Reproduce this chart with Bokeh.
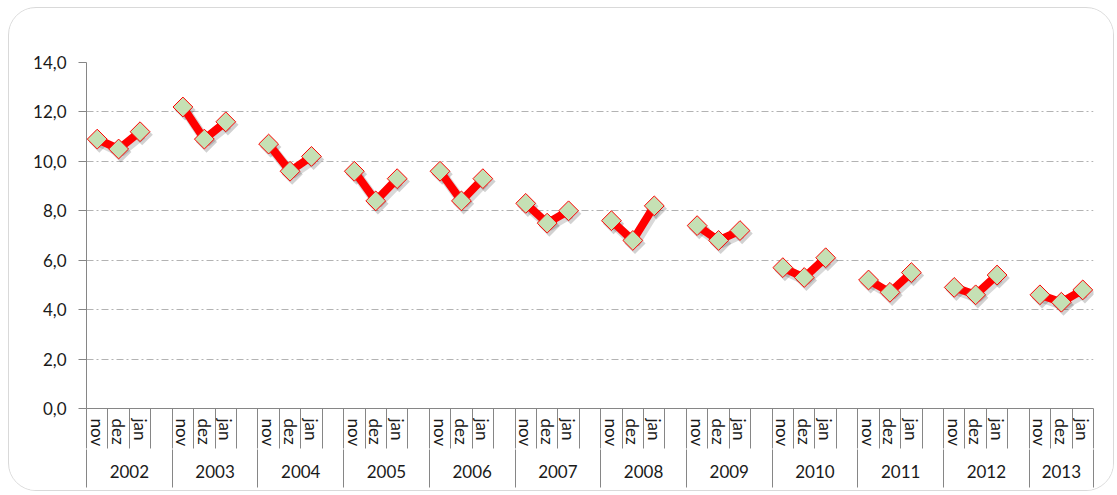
import math
from bokeh.plotting import figure
from bokeh.models import Range1d, LinearAxis, FixedTicker, ColumnDataSource
from bokeh.transform import dodge
from bokeh.embed import file_html
from bokeh.resources import INLINE

# ---- data ----
years = ["2002", "2003", "2004", "2005", "2006", "2007",
         "2008", "2009", "2010", "2011", "2012", "2013"]
months = ["nov", "dez", "jan"]
values = [
    10.9, 10.5, 11.2,   # 2002
    12.2, 10.9, 11.6,   # 2003
    10.7, 9.6, 10.2,    # 2004
    9.6, 8.4, 9.3,      # 2005
    9.6, 8.4, 9.3,      # 2006
    8.3, 7.5, 8.0,      # 2007
    7.6, 6.8, 8.2,      # 2008
    7.4, 6.8, 7.2,      # 2009
    5.7, 5.3, 6.1,      # 2010
    5.2, 4.7, 5.5,      # 2011
    4.9, 4.6, 5.4,      # 2012
    4.6, 4.3, 4.8,      # 2013
]
y_ticks = [0, 2, 4, 6, 8, 10, 12, 14]
y_tick_labels = ["0,0", "2,0", "4,0", "6,0", "8,0", "10,0", "12,0", "14,0"]

# ---- category layout: each year has nov/dez/jan plus one empty slot ----
SLOTS = len(months) + 1
n_slots = len(years) * SLOTS - 1

xs, ys = [], []
month_pos, month_lbl = [], []
for gi, yr in enumerate(years):
    for mi, m in enumerate(months):
        pos = gi * SLOTS + mi
        xs.append(pos)
        ys.append(values[gi * len(months) + mi])
        month_pos.append(pos)
        month_lbl.append(m)
    if gi < len(years) - 1:
        xs.append(gi * SLOTS + len(months))
        ys.append(float("nan"))

slot_edges = [k - 0.5 for k in range(n_slots + 1)]
group_edges = [gi * SLOTS - 0.5 for gi in range(len(years))] + [n_slots - 0.5]
year_centers = [(group_edges[i] + group_edges[i + 1]) / 2 for i in range(len(years))]

src = ColumnDataSource(data=dict(x=xs, y=ys))

FONT = "Lato"
TXT = "#1a1a1a"
AXC = "#868686"

p = figure(width=1106, height=484,
           x_range=Range1d(-0.5, n_slots - 0.5), y_range=Range1d(0, 14),
           x_axis_location=None, output_backend="svg", toolbar_location=None,
           min_border_left=77, min_border_right=22, min_border_top=54, min_border_bottom=84)
p.outline_line_color = None
p.background_fill_color = "white"
p.border_fill_color = "white"
p.styles = {"border": "1px solid #d9d9d9", "border-radius": "28px",
            "overflow": "hidden", "margin": "7px 0 0 8px"}
p.xgrid.grid_line_color = None

# y axis
p.yaxis.ticker = FixedTicker(ticks=y_ticks)
p.yaxis.major_label_overrides = {t: l for t, l in zip(y_ticks, y_tick_labels)}
p.yaxis.major_tick_out = 8
p.yaxis.major_tick_in = 0
p.yaxis.minor_tick_line_color = None
p.yaxis.axis_line_color = AXC
p.yaxis.major_tick_line_color = AXC
p.yaxis.major_label_standoff = 12
p.yaxis.major_label_text_font = FONT
p.yaxis.major_label_text_font_size = "17px"
p.yaxis.major_label_text_color = TXT

p.ygrid.grid_line_color = "#b3b3b3"
p.ygrid.grid_line_dash = "7 3 2 3"
p.ygrid.grid_line_width = 1

# month axis (separators are minor ticks; labels pulled back inside the row)
month_axis = LinearAxis(
    ticker=FixedTicker(ticks=month_pos, minor_ticks=slot_edges),
    major_label_overrides={pos: m for pos, m in zip(month_pos, month_lbl)},
    major_label_orientation="vertical",
    major_tick_out=0, major_tick_in=0, major_tick_line_color=None,
    minor_tick_out=40, minor_tick_in=0, minor_tick_line_color=AXC,
    axis_line_color=AXC, major_label_standoff=-30,
    major_label_text_font=FONT, major_label_text_font_size="17px",
    major_label_text_color=TXT)
p.add_layout(month_axis, "below")

# year axis
year_axis = LinearAxis(
    ticker=FixedTicker(ticks=year_centers, minor_ticks=group_edges),
    major_label_overrides={c: y for c, y in zip(year_centers, years)},
    major_tick_out=0, major_tick_in=0, major_tick_line_color=None,
    minor_tick_out=38, minor_tick_in=0, minor_tick_line_color=AXC,
    axis_line_color=None, major_label_standoff=-23,
    major_label_text_font=FONT, major_label_text_font_size="17px",
    major_label_text_color=TXT)
p.add_layout(year_axis, "below")

# shadows
p.line(x=dodge("x", 0.1, range=p.x_range), y=dodge("y", -0.12, range=p.y_range), source=src,
       line_color="#000000", line_alpha=0.15, line_width=10)
p.scatter(x=dodge("x", 0.1, range=p.x_range), y=dodge("y", -0.12, range=p.y_range), source=src,
          marker="square", angle=math.pi / 4, size=15,
          fill_color="#000000", fill_alpha=0.18, line_color=None)

# series
p.line(x="x", y="y", source=src, line_color="#ff0000", line_width=8)
p.scatter(x="x", y="y", source=src, marker="square", angle=math.pi / 4, size=14,
          fill_color="#c5e0b4", line_color="#ff0000", line_width=1)

open("out.html", "w").write(file_html(p, INLINE))
